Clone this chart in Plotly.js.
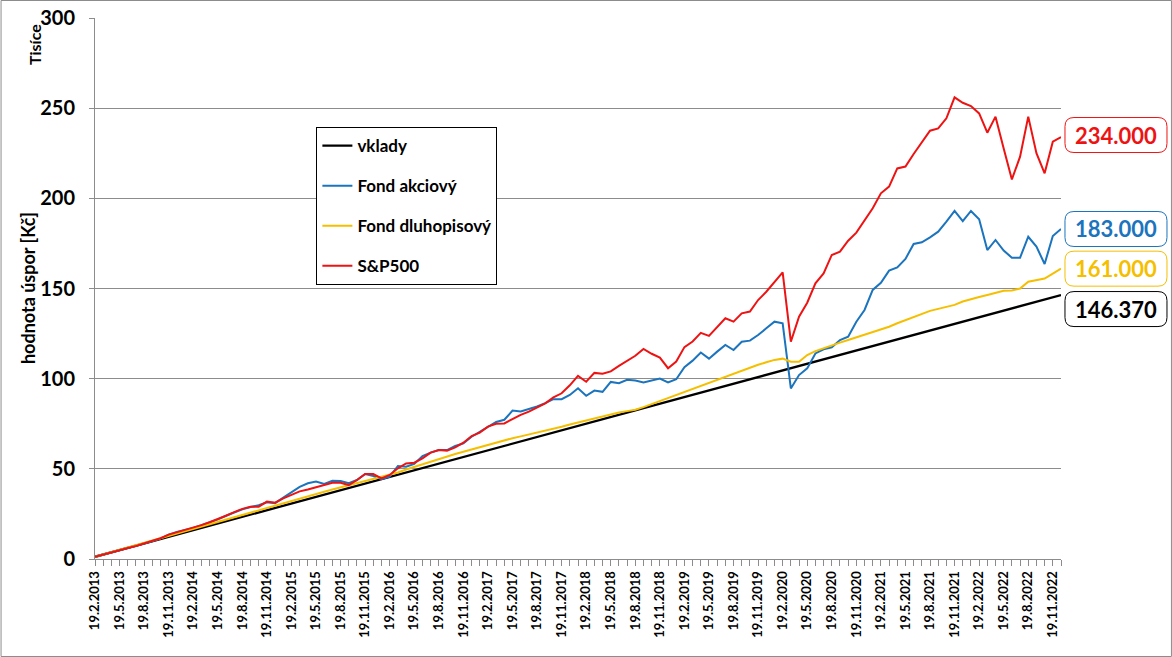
<!DOCTYPE html>
<html>
<head>
<meta charset="utf-8">
<script src="https://cdn.plot.ly/plotly-3.0.1.min.js"></script>
<style>
  html, body { margin: 0; padding: 0; background: #fff; }
  #myDiv { width: 1172px; height: 657px; }
</style>
</head>
<body>
<div id="myDiv"></div>
<script>
// months of the series: 19.2.2013 ... 19.12.2022
var startYear = 2013, startMonth = 2, monthCount = 119;

// values in thousands of CZK
var vklady = [
  1.23, 2.46, 3.69, 4.92, 6.15, 7.38, 8.61, 9.84, 11.07, 12.30,
  13.53, 14.76, 15.99, 17.22, 18.45, 19.68, 20.91, 22.14, 23.37, 24.60,
  25.83, 27.06, 28.29, 29.52, 30.75, 31.98, 33.21, 34.44, 35.67, 36.90,
  38.13, 39.36, 40.59, 41.82, 43.05, 44.28, 45.51, 46.74, 47.97, 49.20,
  50.43, 51.66, 52.89, 54.12, 55.35, 56.58, 57.81, 59.04, 60.27, 61.50,
  62.73, 63.96, 65.19, 66.42, 67.65, 68.88, 70.11, 71.34, 72.57, 73.80,
  75.03, 76.26, 77.49, 78.72, 79.95, 81.18, 82.41, 83.64, 84.87, 86.10,
  87.33, 88.56, 89.79, 91.02, 92.25, 93.48, 94.71, 95.94, 97.17, 98.40,
  99.63, 100.86, 102.09, 103.32, 104.55, 105.78, 107.01, 108.24, 109.47, 110.70,
  111.93, 113.16, 114.39, 115.62, 116.85, 118.08, 119.31, 120.54, 121.77, 123.00,
  124.23, 125.46, 126.69, 127.92, 129.15, 130.38, 131.61, 132.84, 134.07, 135.30,
  136.53, 137.76, 138.99, 140.22, 141.45, 142.68, 143.91, 145.14, 146.37
];

var fondAkciovy = [
  1.3, 2.5, 3.8, 4.9, 6.0, 7.0, 8.3, 9.8, 11.3, 13.5,
  15.0, 16.0, 17.2, 18.8, 20.2, 22.0, 24.0, 25.8, 27.5, 28.8,
  29.8, 31.5, 31.0, 34.0, 37.0, 40.0, 42.0, 42.9, 41.6, 43.4,
  43.3, 42.0, 43.8, 47.1, 46.0, 44.2, 45.7, 51.6, 51.2, 52.7,
  57.1, 59.0, 60.4, 60.4, 62.7, 64.1, 67.8, 70.6, 73.5, 76.0,
  77.2, 82.3, 81.8, 83.1, 84.6, 86.4, 88.6, 88.6, 91.0, 94.7,
  90.5, 93.4, 92.7, 98.2, 97.5, 99.4, 99.0, 97.9, 99.0, 100.1,
  97.9, 99.7, 106.4, 110.0, 114.5, 111.1, 115.0, 118.7, 115.9, 120.5,
  121.1, 124.2, 127.9, 131.6, 130.7, 94.6, 102.0, 105.7, 114.0, 116.3,
  117.4, 121.4, 123.3, 131.6, 138.1, 149.2, 153.2, 159.9, 161.7, 166.4,
  174.7, 175.6, 178.4, 181.5, 187.1, 193.0, 187.4, 193.0, 188.4, 171.3,
  176.9, 171.0, 167.1, 167.1, 178.7, 173.2, 163.6, 179.1, 183.0
];

var fondDluhopisovy = [
  1.2, 2.5, 3.8, 5.1, 6.4, 7.6, 8.9, 10.2, 11.5, 12.8,
  14.0, 15.4, 16.7, 18.0, 19.4, 20.6, 21.9, 23.2, 24.6, 25.9,
  27.1, 28.5, 29.8, 31.1, 32.5, 33.7, 34.9, 36.1, 37.3, 38.5,
  39.7, 40.9, 42.0, 43.1, 44.3, 45.4, 46.5, 48.0, 49.6, 51.1,
  52.6, 54.1, 55.5, 56.8, 58.2, 59.5, 60.8, 62.1, 63.5, 64.8,
  65.9, 67.0, 68.0, 69.0, 70.1, 71.1, 72.1, 73.3, 74.6, 75.7,
  76.9, 78.2, 79.4, 80.3, 81.2, 82.0, 82.8, 84.2, 85.9, 87.5,
  89.1, 90.8, 92.4, 94.0, 95.8, 97.5, 99.2, 100.9, 102.7, 104.4,
  106.1, 107.7, 109.1, 110.4, 111.1, 109.4, 109.4, 113.1, 115.3, 117.0,
  118.5, 120.0, 121.4, 122.8, 124.3, 125.6, 127.0, 128.8, 130.7, 132.5,
  134.4, 136.0, 137.6, 138.7, 139.8, 140.9, 142.8, 144.2, 145.3, 146.4,
  147.5, 148.8, 148.9, 150.0, 153.8, 154.6, 155.5, 158.2, 161.0
];

var sp500 = [
  1.3, 2.6, 3.9, 5.0, 6.1, 7.2, 8.5, 10.0, 11.5, 13.5,
  14.8, 16.0, 17.2, 18.8, 20.4, 22.0, 24.0, 26.0, 27.8, 29.0,
  29.0, 31.8, 31.2, 33.6, 35.5, 37.5, 38.5, 39.7, 41.0, 42.3,
  42.3, 41.0, 43.8, 47.1, 47.1, 44.7, 46.6, 50.3, 53.0, 53.4,
  55.8, 59.0, 60.4, 60.1, 61.9, 64.5, 68.2, 70.1, 73.4, 75.0,
  75.2, 77.5, 79.9, 81.7, 84.1, 86.3, 89.6, 91.9, 96.3, 101.5,
  98.3, 103.2, 102.7, 104.0, 107.1, 110.0, 112.7, 116.5, 113.8, 111.7,
  105.8, 109.5, 117.5, 120.6, 125.4, 123.7, 128.8, 133.5, 131.6, 136.2,
  137.2, 143.6, 148.2, 153.8, 159.0, 120.5, 134.4, 142.1, 152.9, 158.4,
  168.6, 170.4, 176.5, 181.0, 188.0, 194.5, 202.8, 206.5, 216.6, 217.6,
  224.6, 231.4, 237.5, 238.8, 244.4, 256.0, 253.0, 251.2, 247.1, 236.4,
  245.3, 227.7, 210.5, 223.1, 245.3, 225.0, 213.9, 231.4, 234.0
];

var seriesNames = ['vklady', 'Fond akciový', 'Fond dluhopisový', 'S&P500'];
var seriesColors = ['#000000', '#1b74bd', '#f5bf00', '#ee1313'];
var endLabels = ['146.370', '183.000', '161.000', '234.000'];
var labelShift = [-14, 0, 0, 2];

// category labels and indices
var idx = [], dateLabels = [];
for (var k = 0; k < monthCount; k++) {
  var m = startMonth - 1 + k;
  idx.push(k);
  dateLabels.push('19.' + (m % 12 + 1) + '.' + (startYear + Math.floor(m / 12)));
}
var tickIdx = idx.filter(function (v) { return v % 3 === 0; });
var tickText = tickIdx.map(function (v) { return dateLabels[v]; });

var FONT = 'Lato, "Open Sans", sans-serif';
var allSeries = [vklady, fondAkciovy, fondDluhopisovy, sp500];

var data = allSeries.map(function (vals, s) {
  return {
    x: idx,
    y: vals,
    name: seriesNames[s],
    legendgroup: 'g' + s,
    type: 'scatter',
    mode: 'lines',
    line: {color: seriesColors[s], width: s === 0 ? 2.3 : 2},
    text: dateLabels,
    hovertemplate: '%{text}: %{y}<extra>' + seriesNames[s] + '</extra>'
  };
});

var W = 1172, H = 657;
var mL = 94.5, mR = 111, mT = 18, mB = 98;
var pw = W - mL - mR, ph = H - mT - mB;

function roundRect(dy) {
  var hw = 51, hh = 17.5, r = 9;
  var t = dy + hh, b = dy - hh;
  return 'M ' + (-hw + r) + ',' + b + ' L ' + (hw - r) + ',' + b +
    ' Q ' + hw + ',' + b + ' ' + hw + ',' + (b + r) +
    ' L ' + hw + ',' + (t - r) + ' Q ' + hw + ',' + t + ' ' + (hw - r) + ',' + t +
    ' L ' + (-hw + r) + ',' + t + ' Q ' + (-hw) + ',' + t + ' ' + (-hw) + ',' + (t - r) +
    ' L ' + (-hw) + ',' + (b + r) + ' Q ' + (-hw) + ',' + b + ' ' + (-hw + r) + ',' + b + ' Z';
}

var labelX = (1116 - mL) / pw;
var shapes = [{
  type: 'rect', xref: 'paper', yref: 'paper',
  x0: (0.5 - mL) / pw, x1: (W - 0.5 - mL) / pw,
  y0: -(mB - 0.5) / ph, y1: (ph + mT - 0.5) / ph,
  line: {color: '#8c8c8c', width: 1}
}];
var annotations = [
  {xref: 'paper', yref: 'paper', x: (34 - mL) / pw, y: (559 - 44.5) / ph,
   xanchor: 'center', yanchor: 'middle',
   text: 'Tisíce', textangle: -90, showarrow: false,
   font: {family: FONT, size: 16, weight: 'bold', color: '#000'}},
  {xref: 'paper', yref: 'paper', x: (27 - mL) / pw, y: 0.5,
   xanchor: 'center', yanchor: 'middle',
   text: 'hodnota úspor [Kč]', textangle: -90, showarrow: false,
   font: {family: FONT, size: 18, weight: 'bold', color: '#000'}}
];
allSeries.forEach(function (vals, s) {
  var last = vals[vals.length - 1];
  shapes.push({
    type: 'path', xref: 'paper', yref: 'y',
    xsizemode: 'pixel', ysizemode: 'pixel',
    xanchor: labelX, yanchor: last,
    path: roundRect(labelShift[s]),
    line: {color: seriesColors[s], width: 1},
    fillcolor: '#ffffff'
  });
  annotations.push({
    xref: 'paper', yref: 'y', x: labelX, y: last, yshift: labelShift[s],
    xanchor: 'center', yanchor: 'middle',
    text: endLabels[s], showarrow: false,
    font: {family: FONT, size: 22, weight: 'bold', color: seriesColors[s]}
  });
});

var layout = {
  width: W, height: H,
  margin: {l: mL, r: mR, t: mT, b: mB},
  paper_bgcolor: '#fff', plot_bgcolor: '#fff',
  showlegend: true,
  legend: {
    x: (316 - mL) / pw, y: (559 - 127) / ph, xanchor: 'left', yanchor: 'top',
    bordercolor: '#000', borderwidth: 1, bgcolor: '#fff',
    traceorder: 'grouped', tracegroupgap: 15,
    font: {family: FONT, size: 17, weight: 'bold', color: '#000'}
  },
  xaxis: {
    range: [0, 118], tickmode: 'array', tickvals: tickIdx, ticktext: tickText,
    tickangle: -90, ticks: 'outside', ticklen: 6, tickcolor: '#8c8c8c',
    minor: {dtick: 1, tick0: 0, ticks: 'outside', ticklen: 6, tickcolor: '#8c8c8c', showgrid: false},
    showgrid: false, zeroline: false, showline: true, linecolor: '#8c8c8c', linewidth: 1,
    tickfont: {family: FONT, size: 13, weight: 'bold', color: '#000'}
  },
  yaxis: {
    range: [0, 300], dtick: 50, ticks: 'outside', ticklen: 5, tickcolor: '#8c8c8c',
    ticklabelstandoff: 10,
    showgrid: true, gridcolor: '#8c8c8c', gridwidth: 1, zeroline: false,
    showline: true, linecolor: '#8c8c8c', linewidth: 1,
    tickfont: {family: FONT, size: 20, weight: 'bold', color: '#000'}
  },
  shapes: shapes,
  annotations: annotations
};

Plotly.newPlot('myDiv', data, layout, {displayModeBar: false});
</script>
</body>
</html>
